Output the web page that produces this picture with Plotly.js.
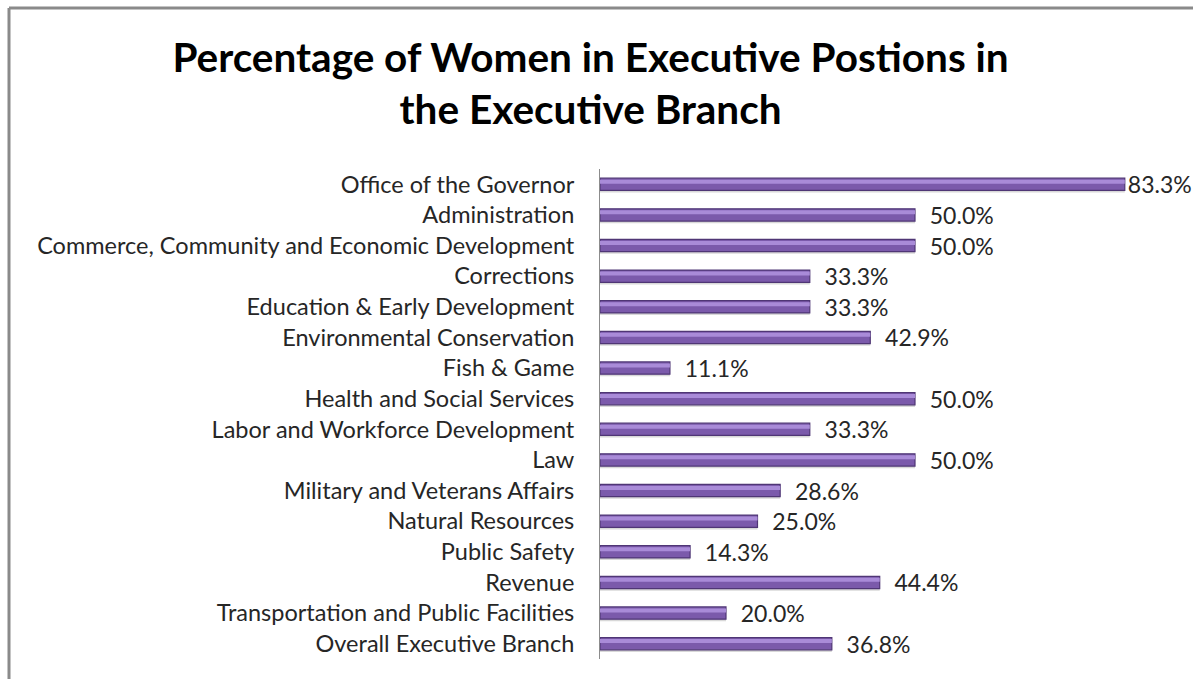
<!DOCTYPE html>
<html>
<head>
<meta charset="utf-8">
<script src="https://cdn.plot.ly/plotly-3.0.1.min.js"></script>
<style>
html,body{margin:0;padding:0;background:#fff;}
#chart{width:1193px;height:679px;}
</style>
</head>
<body>
<div id="chart"></div>
<script>
const categories = [
  "Office of the Governor",
  "Administration",
  "Commerce, Community and Economic Development",
  "Corrections",
  "Education & Early Development",
  "Environmental Conservation",
  "Fish & Game",
  "Health and Social Services",
  "Labor and Workforce Development",
  "Law",
  "Military and Veterans Affairs",
  "Natural Resources",
  "Public Safety",
  "Revenue",
  "Transportation and Public Facilities",
  "Overall Executive Branch"
];
const percentWomen = [83.3, 50.0, 50.0, 33.3, 33.3, 42.9, 11.1, 50.0, 33.3, 50.0, 28.6, 25.0, 14.3, 44.4, 20.0, 36.8];

const maxVal = Math.max(...percentWomen);
const labels = percentWomen.map(v => (v === maxVal ? '' : '\u00a0\u00a0') + v.toFixed(1) + '%');

const shadow = {
  type: 'bar', orientation: 'h', y: categories, x: percentWomen,
  width: 0.07, offset: 0.2,
  marker: {color: '#d8d8d8', line: {width: 0}},
  hoverinfo: 'none'
};
const mainBar = {
  type: 'bar', orientation: 'h', y: categories, x: percentWomen,
  width: 0.4, offset: -0.2,
  marker: {color: '#7b5aab', line: {color: '#4f3675', width: 1.2}},
  text: labels,
  textposition: 'outside',
  textfont: {family: 'Lato, sans-serif', size: 23, color: '#262626'},
  constraintext: 'none',
  cliponaxis: false,
  hoverinfo: 'none'
};
const highlight = {
  type: 'bar', orientation: 'h', y: categories, x: percentWomen,
  width: 0.13, offset: -0.15,
  marker: {color: '#a98bd8', line: {width: 0}},
  hoverinfo: 'none'
};

const yTop = 8, yBot = 659, plotH = 490, xLeft = 600, plotW = 567;

const layout = {
  width: 1193,
  height: 679,
  paper_bgcolor: '#fff',
  plot_bgcolor: '#fff',
  barmode: 'overlay',
  margin: {l: 600, r: 26, t: 169, b: 20},
  title: {
    text: 'Percentage of Women in Executive Postions in<br>the Executive Branch',
    font: {family: 'Lato, sans-serif', size: 40.5, color: '#000', weight: 'bold'},
    x: 0.495, xref: 'container', xanchor: 'center',
    y: 0.8944, yref: 'container', yanchor: 'top'
  },
  xaxis: {
    range: [0, 90],
    showgrid: false, zeroline: false, showticklabels: false, showline: false, ticks: ''
  },
  yaxis: {
    autorange: 'reversed',
    showline: true, linecolor: '#8c8c8c', linewidth: 1,
    showgrid: false, ticks: '',
    ticklabelstandoff: 20,
    tickfont: {family: 'Lato, sans-serif', size: 23.5, color: '#262626'}
  },
  showlegend: false,
  shapes: [
    {type: 'line', xref: 'paper', yref: 'paper',
     x0: (9 - xLeft) / plotW, x1: (9 - xLeft) / plotW,
     y0: (yBot - 700) / plotH, y1: (yBot - yTop) / plotH,
     line: {color: '#8a8a8a', width: 3}},
    {type: 'line', xref: 'paper', yref: 'paper',
     x0: (9 - xLeft) / plotW, x1: (1200 - xLeft) / plotW,
     y0: (yBot - yTop) / plotH, y1: (yBot - yTop) / plotH,
     line: {color: '#8a8a8a', width: 3}}
  ]
};

Plotly.newPlot('chart', [shadow, mainBar, highlight], layout, {displayModeBar: false, staticPlot: true});
</script>
</body>
</html>
